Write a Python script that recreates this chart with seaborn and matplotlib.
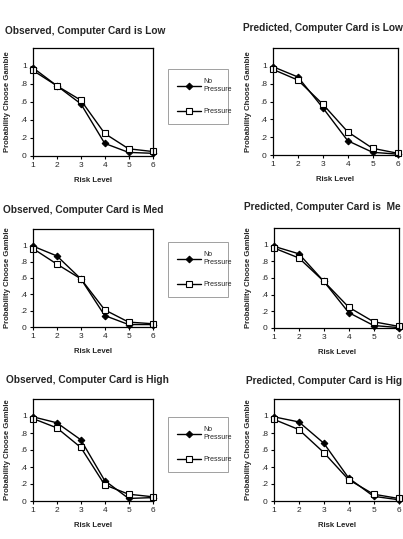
import matplotlib
matplotlib.use("Agg")
import numpy as np
import pandas as pd
import matplotlib.pyplot as plt
import seaborn as sns

# Data
risk = [1, 2, 3, 4, 5, 6]
yticks = [0, .2, .4, .6, .8, 1]
ytick_labels = ["0", ".2", ".4", ".6", ".8", "1"]

obs_low_np = [0.98, 0.78, 0.58, 0.14, 0.04, 0.03]
obs_low_p = [0.95, 0.78, 0.62, 0.25, 0.08, 0.05]
pred_low_np = [0.99, 0.875, 0.53, 0.16, 0.03, 0.01]
pred_low_p = [0.96, 0.84, 0.57, 0.26, 0.075, 0.02]
obs_med_np = [0.99, 0.87, 0.59, 0.14, 0.03, 0.03]
obs_med_p = [0.96, 0.77, 0.59, 0.21, 0.06, 0.04]
pred_med_np = [0.98, 0.89, 0.56, 0.185, 0.03, 0.005]
pred_med_p = [0.96, 0.84, 0.56, 0.25, 0.075, 0.02]
obs_high_np = [0.99, 0.92, 0.72, 0.24, 0.03, 0.04]
obs_high_p = [0.97, 0.86, 0.63, 0.19, 0.08, 0.05]
pred_high_np = [0.99, 0.93, 0.68, 0.27, 0.055, 0.015]
pred_high_p = [0.96, 0.84, 0.57, 0.25, 0.08, 0.03]

# titles as far as they are visible in the reference (right ones run off the page)
titles = [
    "Observed, Computer Card is Low", "Predicted, Computer Card is Low",
    "Observed, Computer Card is Med", "Predicted, Computer Card is  Me",
    "Observed, Computer Card is High", "Predicted, Computer Card is Hig",
]
series = [
    (obs_low_np, obs_low_p), (pred_low_np, pred_low_p),
    (obs_med_np, obs_med_p), (pred_med_np, pred_med_p),
    (obs_high_np, obs_high_p), (pred_high_np, pred_high_p),
]

W, H = 403, 539
# axes boxes in pixels: left, top, right, bottom
boxes = [
    (33, 48, 153, 156), (273, 48, 398, 155),
    (33, 229, 153, 327), (274, 228, 399, 328),
    (33, 399, 153, 501), (274, 399, 399, 501),
]
title_pos = [(5, 30.5), (243, 28), (3, 210), (244, 206.5), (6, 380), (246, 381)]
legend_pos = [(168, 69), (168, 242), (168, 417)]

sns.set_style("ticks")
plt.rcParams["font.family"] = ["Liberation Sans", "DejaVu Sans"]

fig = plt.figure(figsize=(W / 100, H / 100), dpi=100)

for i, (title, (np_vals, p_vals), box) in enumerate(zip(titles, series, boxes)):
    l, t, r, b = box
    ax = fig.add_axes([l / W, 1 - b / H, (r - l) / W, (b - t) / H])
    df = pd.DataFrame({
        "risk": risk * 2,
        "prob": np_vals + p_vals,
        "cond": ["No Pressure"] * 6 + ["Pressure"] * 6,
    })
    sns.lineplot(data=df[df.cond == "No Pressure"], x="risk", y="prob", ax=ax,
                 color="black", lw=1.0, marker="D", markersize=3.4,
                 markeredgecolor="black", markerfacecolor="black",
                 label="No\nPressure", clip_on=False)
    sns.lineplot(data=df[df.cond == "Pressure"], x="risk", y="prob", ax=ax,
                 color="black", lw=1.0, marker="s", markersize=4.5,
                 markeredgecolor="black", markerfacecolor="white",
                 markeredgewidth=0.8, label="Pressure", clip_on=False)
    handles, labels = ax.get_legend_handles_labels()
    if ax.get_legend() is not None:
        ax.get_legend().remove()

    ax.set_xlim(1, 6.02)
    ax.set_ylim(0, 1.2)
    ax.set_xticks(risk)
    ax.set_yticks(yticks)
    ax.set_yticklabels(ytick_labels)
    ax.tick_params(labelsize=6, length=2.5, width=0.8, pad=2, color="black")
    for s in ax.spines.values():
        s.set_visible(True)
        s.set_color("black")
        s.set_linewidth(0.9)

    ax.set_ylabel("Probability Choose Gamble", fontsize=5.6, fontweight="bold")
    ax.set_xlabel("Risk Level", fontsize=5.6, fontweight="bold")
    wpx, hpx = r - l, b - t
    ylab_right = 11 if i % 2 == 0 else 252
    ax.yaxis.set_label_coords((ylab_right - l) / wpx, 0.5)
    ax.xaxis.set_label_coords(0.5, -21 / hpx)

    tx, ty = title_pos[i]
    fig.text(tx / W, 1 - ty / H, title, ha="left", va="center",
             fontsize=7.3, fontweight="bold")

    if i % 2 == 0:
        lx, ly = legend_pos[i // 2]
        leg = fig.legend(handles, labels, loc="upper left",
                         bbox_to_anchor=(lx / W, 1 - ly / H, 60 / W, 0.0),
                         bbox_transform=fig.transFigure, mode="expand",
                         borderaxespad=0, fontsize=5, frameon=True,
                         fancybox=False, edgecolor="#888888",
                         handlelength=3.4, handletextpad=0.3,
                         labelspacing=2.1, borderpad=1.35)
        leg.get_frame().set_linewidth(0.7)

fig.savefig("out.png", dpi=100)
